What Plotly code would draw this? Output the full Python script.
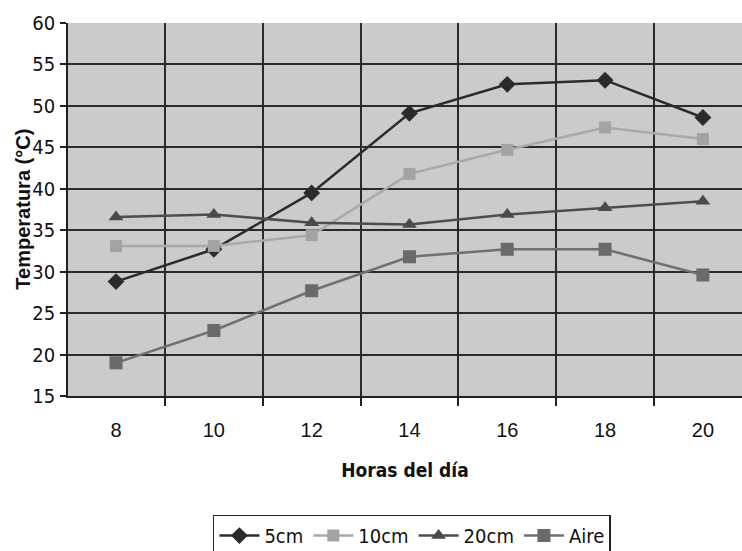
import plotly.graph_objects as go

horas = [8, 10, 12, 14, 16, 18, 20]
t_5cm = [28.8, 32.7, 39.5, 49.1, 52.6, 53.1, 48.6]
t_10cm = [33.1, 33.1, 34.4, 41.8, 44.7, 47.4, 46.0]
t_20cm = [36.6, 36.9, 35.9, 35.7, 36.9, 37.7, 38.5]
t_aire = [19.0, 22.9, 27.7, 31.8, 32.7, 32.7, 29.6]
y_ticks = [15, 20, 25, 30, 35, 40, 45, 50, 55, 60]
x_grid = [7, 9, 11, 13, 15, 17, 19, 21]

FONT = "Liberation Sans, Arial, sans-serif"
COND = "DejaVu Sans Condensed, Liberation Sans, Arial, sans-serif"

series = [
    ("5cm", t_5cm, "#2b2b2b", "#2b2b2b", "diamond", 13),
    ("10cm", t_10cm, "#a9a9a9", "#a3a3a3", "square", 12),
    ("20cm", t_20cm, "#4d4d4d", "#4a4a4a", "triangle-up", 13),
    ("Aire", t_aire, "#707070", "#6a6a6a", "square", 13),
]

fig = go.Figure()
for name, vals, lc, mc, sym, sz in series:
    fig.add_trace(go.Scatter(
        x=horas, y=vals, name=name, mode="lines+markers",
        line=dict(color=lc, width=2.5),
        marker=dict(symbol=sym, size=sz, color=mc, line=dict(width=0)),
    ))

fig.update_layout(
    width=742, height=551,
    margin=dict(l=68, r=0, t=23, b=155, autoexpand=False),
    paper_bgcolor="white",
    plot_bgcolor="#cbcbcb",
    font=dict(family=FONT, size=19, color="#111"),
    legend=dict(
        orientation="h", x=0.215, xanchor="left", y=-0.318, yanchor="top",
        bordercolor="#222", borderwidth=1.5, bgcolor="white",
        font=dict(family=COND, size=20, color="#111"),
        itemwidth=40, tracegroupgap=0,
    ),
    annotations=[dict(
        text="<b>Temperatura (°C)</b>", xref="paper", yref="paper",
        x=-0.068, y=0.5, xanchor="center", yanchor="middle",
        textangle=-90, showarrow=False,
        font=dict(family=FONT, size=20, color="#111"),
    )],
)
fig.update_xaxes(
    range=[7.018, 20.8], tickmode="array", tickvals=horas,
    ticktext=[str(h) for h in horas], showgrid=False, ticks="",
    zeroline=False, showline=True, linecolor="#222", linewidth=1.5,
    ticklabelstandoff=15, automargin=False,
    tickfont=dict(family=FONT, size=20, color="#111"),
    minor=dict(tickmode="array", tickvals=x_grid, showgrid=True,
               gridcolor="#2a2a2a", gridwidth=1.5, ticks="outside",
               ticklen=8, tickcolor="#222", tickwidth=1.5),
    title=dict(text="<b>Horas del día</b>", standoff=24,
               font=dict(family=COND, size=19, color="#111")),
)
fig.update_yaxes(
    range=[15, 60], tickmode="array", tickvals=y_ticks,
    showgrid=True, gridcolor="#2a2a2a", gridwidth=1.5,
    ticks="outside", ticklen=6, tickcolor="#222", tickwidth=1.5,
    zeroline=False, showline=True, linecolor="#222", linewidth=1.5,
    ticklabelstandoff=1, automargin=False,
    tickfont=dict(family=COND, size=20, color="#111"),
)

fig.write_html("out.html")
